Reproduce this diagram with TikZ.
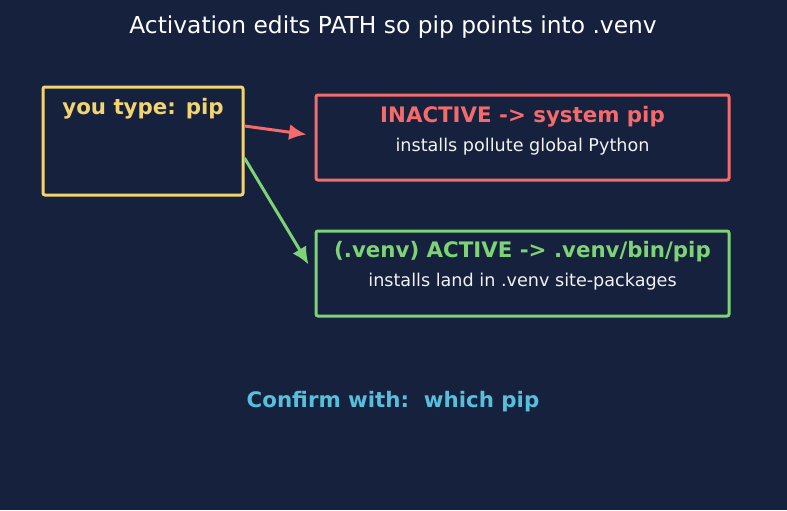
\documentclass[tikz,border=0pt]{standalone}
\usepackage{fontspec}
\setmainfont{DejaVu Sans}
\usepackage{tikz}
\usetikzlibrary{shapes,arrows,arrows.meta}
\usetikzlibrary{calc}
\usetikzlibrary{positioning}
\definecolor{bgnavy}{HTML}{16213E}
\definecolor{typeyellow}{HTML}{F2D471}
\definecolor{inactred}{HTML}{F36B6B}
\definecolor{actgreen}{HTML}{7ED377}
\definecolor{whichcyan}{HTML}{56BFDB}
\definecolor{subwhite}{HTML}{F2F2F2}
\tikzstyle{box} = [draw, line width=2.25pt, rounded corners=1.5pt,
    inner sep=0pt, minimum height=81pt, minimum width=150pt]
\tikzstyle{pathbox} = [box, minimum height=63.75pt, minimum width=309.75pt]
\tikzstyle{head} = [font=\fontsize{16}{19}\selectfont\bfseries, inner sep=0pt]
\tikzstyle{sub} = [text=subwhite, font=\fontsize{13.2}{16}\selectfont, inner sep=0pt]

\begin{document}
\begin{tikzpicture}[auto, x=0.75pt, y=-0.75pt, >={Latex[length=13pt,width=12pt]}, line width=2.25pt]
    \fill[bgnavy] (0,0) rectangle (787,510);
    \useasboundingbox (0,0) rectangle (787,510);
    % We start by placing the title and the boxes
    \node [text=white, font=\fontsize{17.5}{21}\selectfont, inner sep=0pt] (title) at (393,27) {Activation edits PATH so pip points into .venv};
    \node [box, typeyellow] (typed) at (143,141) {};
    \node [pathbox, inactred] (inactive) at (522.5,137.5) {};
    \node [pathbox, actgreen] (active) at (522.5,273.5) {};

    % texts inside the boxes
    \node [head, text=typeyellow] (typedhead) at ($(typed.north)+(0,23)$) {you type: pip};
    \node [head, text=inactred] (inactivehead) at ($(inactive.north)+(0,23.5)$) {INACTIVE -> system pip};
    \node [sub, below=22.5pt of inactivehead.center, anchor=center] (inactivesub) {installs pollute global Python};
    \node [head, text=actgreen] (activehead) at ($(active.north)+(0,22.5)$) {(.venv) ACTIVE -> .venv/bin/pip};
    \node [sub, below=22.5pt of activehead.center, anchor=center] (activesub) {installs land in .venv site-packages};

    \node [head, text=whichcyan] (confirm) at (393,401.5) {Confirm with:\ \ which pip};

    \draw [->, inactred] ($(typed.east)+(0,-15)$) -- ($(inactive.west)+(-8,-3)$);
    \draw [->, actgreen] ($(typed.east)+(0,17)$) -- ($(active.west)+(-6,-9)$);
\end{tikzpicture}
\end{document}
